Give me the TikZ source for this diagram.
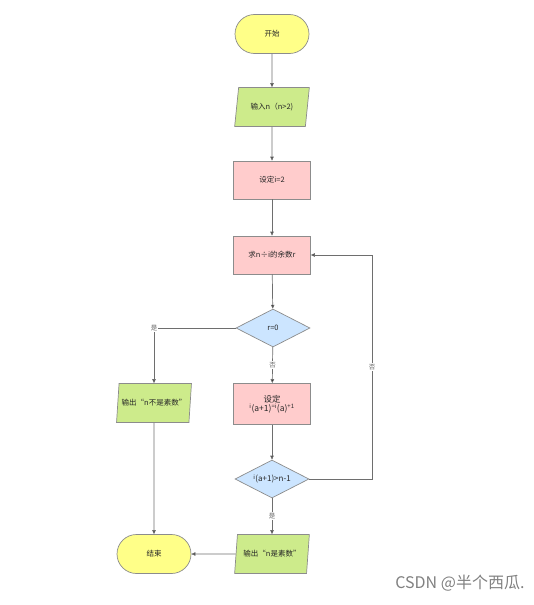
\documentclass[tikz,border=0pt]{standalone}
\usepackage{fontspec}
\setmainfont{Noto Sans CJK SC}
\usetikzlibrary{shapes.geometric,shapes.misc,arrows.meta}
\definecolor{termfill}{HTML}{FFFF88}
\definecolor{parafill}{HTML}{CDEB8B}
\definecolor{boxfill}{HTML}{FFCCCC}
\definecolor{diafill}{HTML}{CCE5FF}
\definecolor{edgecol}{HTML}{6E6E6E}
\definecolor{strokecol}{HTML}{8C8C8C}
\tikzset{
  base/.style={draw=strokecol, line width=0.7pt, inner sep=1pt, font=\fontsize{7.5}{8.5}\selectfont, text=black!85},
  term/.style={base, fill=termfill, rounded rectangle, minimum width=76pt, minimum height=39pt},
  para/.style={base, fill=parafill, trapezium, trapezium left angle=75, trapezium right angle=105, trapezium stretches=true, minimum width=75pt, minimum height=39pt},
  proc/.style={base, fill=boxfill, rectangle, minimum width=77pt, minimum height=38pt},
  dec/.style={base, fill=diafill, diamond, aspect=2, minimum width=74pt, minimum height=38pt, inner sep=0pt},
  conn/.style={draw=edgecol, line width=0.7pt, -{Triangle[length=4pt,width=3.5pt,fill=black!85]}},
  lbl/.style={fill=white, inner sep=1pt, font=\fontsize{6.5}{7}\selectfont, text=black!60}
}
\begin{document}
\begin{tikzpicture}[x=1pt,y=-1pt]
\useasboundingbox (0,0) rectangle (534,605);
\node[term] (start) at (272,34) {开始};
\node[para] (input) at (272,107) {输入n（n>2)};
\node[proc] (seti) at (272,180) {设定i=2};
\node[proc] (rem) at (272,255) {求n÷i的余数r};
\node[dec] (c1) at (273,328) {r=0};
\node[proc, align=center, minimum height=41pt, font=\fontsize{8.5}{9.5}\selectfont] (seta) at (272,404) {设定\\[-1pt]\textsuperscript{i}(a+1)\textsuperscript{=i}(a)\textsuperscript{+1}};
\node[dec, font=\fontsize{8}{9}\selectfont] (c2) at (272,479) {\textsuperscript{i}(a+1)>n-1};
\node[para] (yes) at (272,554) {输出“n是素数”};
\node[para] (no) at (154,403) {输出“n不是素数”};
\node[term] (stop) at (154,554) {结束};
\coordinate (loopc) at (372,479);
\draw[conn] (start) -- (input);
\draw[conn] (input) -- (seti);
\draw[conn] (seti) -- (rem);
\draw[conn] (rem) -- (c1);
\draw[conn] (c1) -- node[lbl] {否} (seta);
\draw[conn] (seta) -- (c2);
\draw[conn] (c2) -- node[lbl] {是} (yes);
\draw[conn] (c2.east) -- (loopc) |- node[lbl, pos=0.25] {否} (rem.east);
\draw[conn] (c1.west) -| node[lbl, pos=0.5] {是} (no.north);
\draw[conn] (no.south) -- (stop.north);
\draw[conn] (yes.west) -- (stop.east);
\node[anchor=east, text=black!50, font=\fontsize{16}{17}\selectfont] (wm) at (528,583) {CSDN @半个西瓜.};
\end{tikzpicture}
\end{document}
